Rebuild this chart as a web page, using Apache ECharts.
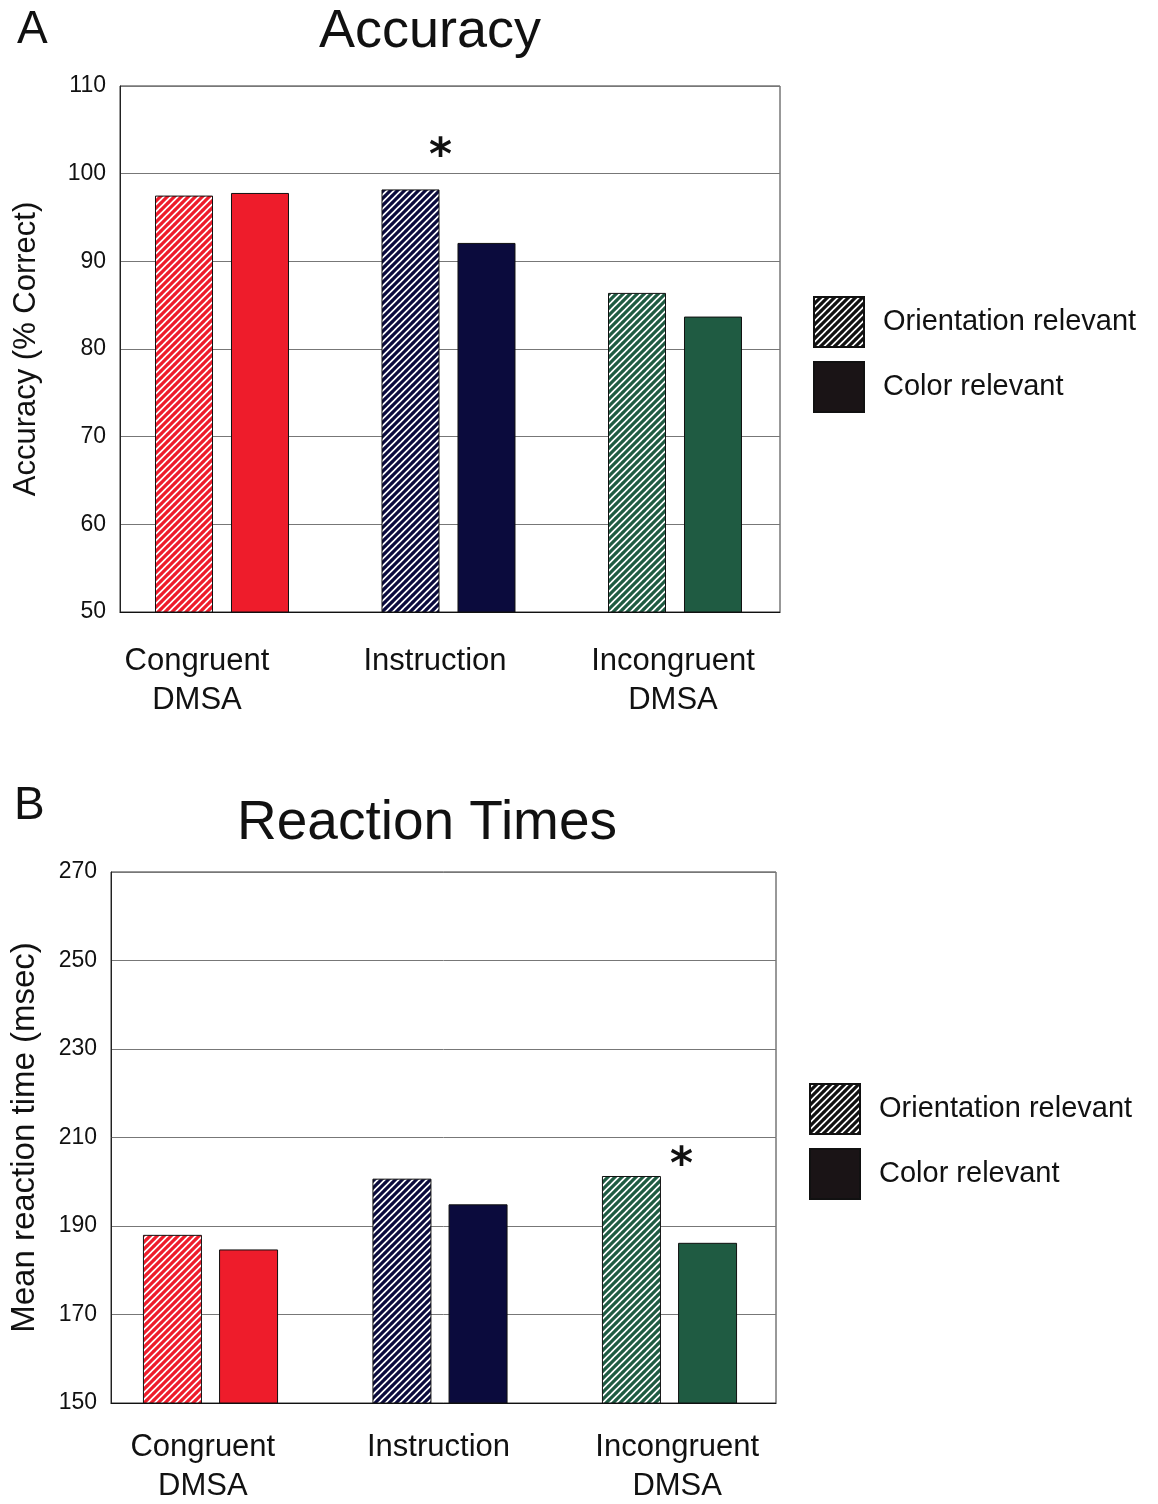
<!DOCTYPE html>
<html><head><meta charset="utf-8">
<script src="https://cdn.jsdelivr.net/npm/echarts@6/dist/echarts.min.js"></script>
<style>html,body{margin:0;padding:0;background:#fff}#c{width:1158px;height:1504px}</style>
</head><body><div id="c"></div>
<script>
// ---- data ----
const categories = ['Congruent\nDMSA', 'Instruction', 'Incongruent\nDMSA'];
const seriesNames = ['Orientation relevant', 'Color relevant'];
const accuracyOrientation = [97.5, 98.2, 86.4];
const accuracyColor = [97.8, 92.1, 83.7];
const rtOrientation = [188.0, 200.7, 201.3];
const rtColor = [184.7, 194.9, 186.2];
const accuracyAxis = { min: 50, max: 110, step: 10 };
const rtAxis = { min: 150, max: 270, step: 20 };
const accuracyStar = ['Instruction', 103.4];
const rtStar = ['Incongruent\nDMSA', 205.6];

// ---- styles ----
const conditionColors = ['#ee1c2b', '#0b0b3d', '#1f5b42'];
const FONT = 'Liberation Sans, Arial, sans-serif';

function hatch(color) {
  const n = 7;
  const c = document.createElement('canvas');
  c.width = n; c.height = n;
  const g = c.getContext('2d');
  g.fillStyle = '#fff'; g.fillRect(0, 0, n, n);
  g.strokeStyle = color; g.lineWidth = 3.2;
  g.beginPath();
  g.moveTo(-1, n + 1); g.lineTo(n + 1, -1);
  g.moveTo(-1 - n, n + 1); g.lineTo(1, -1);
  g.moveTo(n - 1, n + 1); g.lineTo(2 * n + 1, -1);
  g.stroke();
  return { image: c, repeat: 'repeat' };
}

const chart = echarts.init(document.getElementById('c'), null, { renderer: 'canvas' });

function labelFormatter(shifts) {
  return function (v, i) {
    const s = shifts[i] || 0;
    const key = s < 0 ? 'l' + i : 'r' + i;
    return v.split('\n').map(t => '{' + key + '|' + t + '}').join('\n');
  };
}
function richFor(shifts, size, lh) {
  const r = {};
  shifts.forEach((s, i) => {
    const key = s < 0 ? 'l' + i : 'r' + i;
    r[key] = {
      fontSize: size, lineHeight: lh, fontFamily: FONT, color: '#111',
      padding: s < 0 ? [0, -2 * s, 0, 0] : [0, 0, 0, 2 * s]
    };
  });
  return r;
}
const shiftsA = [-33, -15, 3];
const shiftsB = [-19, -5, 12];

function barSeries(name, data, ai, bw, gap, hatched, star) {
  const s = {
    name: name, type: 'bar', xAxisIndex: ai, yAxisIndex: ai,
    barWidth: bw, barGap: gap,
    itemStyle: { color: hatched ? hatch('#111') : '#1a1416', borderColor: '#111', borderWidth: 1 },
    data: data.map((v, i) => ({
      value: v,
      itemStyle: { color: hatched ? hatch(conditionColors[i]) : conditionColors[i] }
    })),
    emphasis: { disabled: true }, silent: true, animation: false
  };
  if (star) {
    s.markPoint = {
      symbol: 'circle', symbolSize: 0, silent: true, animation: false,
      label: { show: true, formatter: '*', fontSize: 44, fontWeight: 'bold', color: '#111', fontFamily: 'DejaVu Sans',
        position: 'inside', offset: star.offset },
      data: [{ coord: star.coord }]
    };
  }
  return s;
}

function yAx(gi, ax, name, gap, visible, nameSize) {
  return {
    type: 'value', gridIndex: gi, min: ax.min, max: ax.max, interval: ax.step, show: visible,
    name: visible ? name : '', nameLocation: 'middle', nameGap: gap, nameRotate: 90,
    nameTextStyle: { fontSize: nameSize || 31, fontFamily: FONT, color: '#111' },
    axisLine: { show: true, lineStyle: { color: '#222', width: 1 } },
    axisTick: { show: false },
    axisLabel: { fontSize: 23, fontFamily: FONT, color: '#111', margin: 14 },
    splitLine: { show: visible, lineStyle: { color: '#777', width: 1 } }
  };
}
function xAx(gi, shifts, margin, visible) {
  return {
    type: 'category', gridIndex: gi, data: categories, show: visible,
    axisLine: { show: true, lineStyle: { color: '#111', width: 1.2 } },
    axisTick: { show: false },
    axisLabel: { margin: margin, interval: 0, formatter: labelFormatter(shifts), rich: richFor(shifts, 31, 39) }
  };
}

const legendBase = {
  data: seriesNames, orient: 'vertical', itemWidth: 50, itemHeight: 50, itemGap: 13, padding: 0,
  icon: 'rect', selectedMode: false,
  textStyle: { fontSize: 29, fontFamily: FONT, color: '#111', padding: [6, 0, 0, 14] }
};

chart.setOption({
  backgroundColor: '#fff',
  animation: false,
  title: [
    { text: 'A', left: 12, top: 2, textStyle: { fontSize: 46, fontWeight: 'normal', fontFamily: FONT, color: '#111' } },
    { text: 'Accuracy', left: 425, top: 0, textAlign: 'center', textStyle: { fontSize: 54, fontWeight: 'normal', fontFamily: FONT, color: '#111' } },
    { text: 'B', left: 9, top: 778, textStyle: { fontSize: 46, fontWeight: 'normal', fontFamily: FONT, color: '#111' } },
    { text: 'Reaction Times', left: 422, top: 791, textAlign: 'center', textStyle: { fontSize: 55, fontWeight: 'normal', fontFamily: FONT, color: '#111' } }
  ],
  legend: [
    Object.assign({}, legendBase, { left: 813, top: 296 }),
    Object.assign({}, legendBase, { left: 809, top: 1083 })
  ],
  grid: [
    { left: 120, top: 86, width: 660, height: 526, show: true, borderColor: '#333', borderWidth: 1, backgroundColor: '#fff' },
    { left: 108.75, top: 86, width: 679.5, height: 526 },
    { left: 108, top: 872, width: 668, height: 531, show: true, borderColor: '#333', borderWidth: 1, backgroundColor: '#fff' },
    { left: 95.75, top: 872, width: 688.5, height: 531 }
  ],
  xAxis: [xAx(0, shiftsA, 30, true), xAx(1, shiftsA, 30, false), xAx(2, shiftsB, 25, true), xAx(3, shiftsB, 25, false)],
  yAxis: [
    yAx(0, accuracyAxis, 'Accuracy (% Correct)', 78, true, 31), yAx(1, accuracyAxis, '', 0, false),
    yAx(2, rtAxis, 'Mean reaction time (msec)', 70, true, 33), yAx(3, rtAxis, '', 0, false)
  ],
  series: [
    barSeries(seriesNames[0], accuracyOrientation, 1, 58, '31%', true, { coord: accuracyStar, offset: [30, 14] }),
    barSeries(seriesNames[1], accuracyColor, 1, 58, '31%', false),
    barSeries(seriesNames[0], rtOrientation, 3, 59, '29%', true, { coord: rtStar, offset: [50, 10] }),
    barSeries(seriesNames[1], rtColor, 3, 59, '29%', false)
  ]
});
</script></body></html>
